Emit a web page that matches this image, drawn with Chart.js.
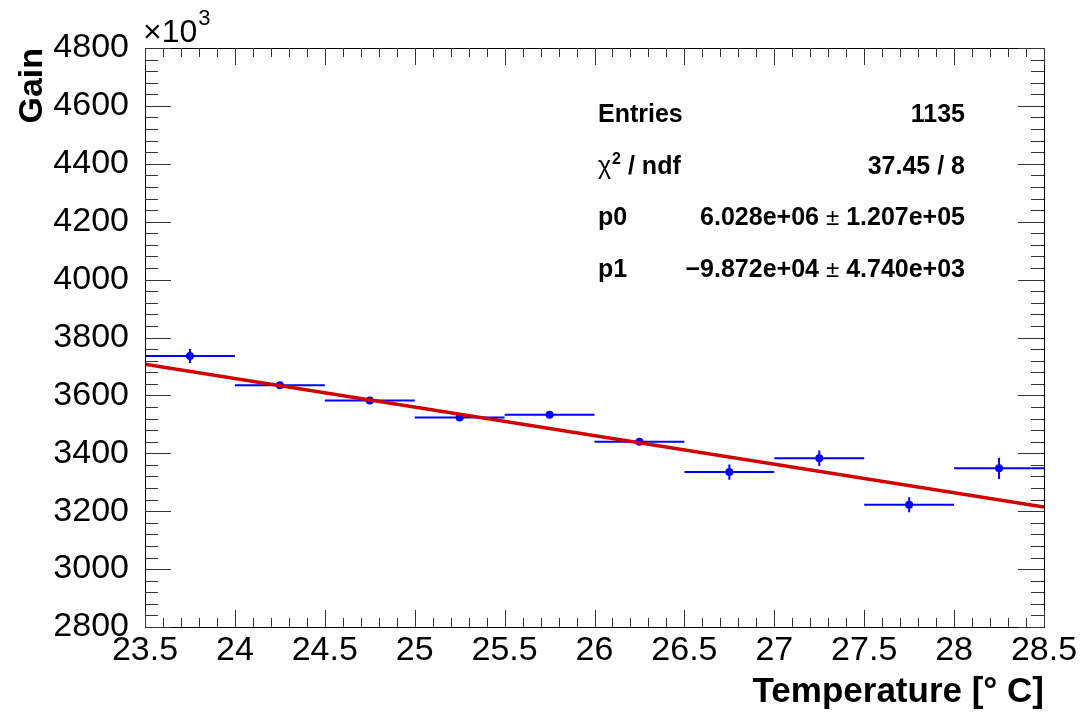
<!DOCTYPE html>
<html>
<head>
<meta charset="utf-8">
<script src="https://cdn.jsdelivr.net/npm/chart.js"></script>
<style>
    body { margin: 0; background: #ffffff; }
</style>
</head>
<body>
<canvas id="gainChart" width="1084" height="713"></canvas>
<script>
    // Gain vs temperature (gain in units of 10^3), one point per 0.5 degree bin
    const temps = [23.75, 24.25, 24.75, 25.25, 25.75, 26.25, 26.75, 27.25, 27.75, 28.25];
    const gains = [3736, 3635, 3582, 3524, 3533, 3440, 3335, 3383, 3222, 3348];
    const gainErr = [24, 12, 9, 7, 8, 9, 26, 27, 26, 37];
    const binHalf = 0.25;

    // linear fit p0 + p1*x, drawn across the whole range
    const fitX = [23.5, 28.5];
    const fitY = [3708.1, 3214.5];

    // stats box
    const statLabels = ['Entries', 'chi2', 'p0', 'p1'];
    const statValues = [['1135'], ['37.45 / 8'], ['6.028e+06', '1.207e+05'], ['\u22129.872e+04', '4.740e+03']];

    const FONT = "'Liberation Sans', Arial, sans-serif";

    // ROOT style frame: ticks inside on all four sides
    const rootFrame = {
        id: 'rootFrame',
        afterDatasetsDraw(chart) {
            const { ctx, chartArea: a, scales: { x, y } } = chart;
            ctx.save();
            ctx.strokeStyle = '#000000';
            ctx.lineWidth = 1;
            ctx.strokeRect(Math.round(a.left) + 0.5, Math.round(a.top) + 0.5,
                Math.round(a.right - a.left), Math.round(a.bottom - a.top));
            ctx.strokeStyle = '#333333';
            ctx.beginPath();
            for (let i = 0; i <= 50; i++) {
                const py = Math.round(y.getPixelForValue(y.min + i * 40)) + 0.5;
                const len = i % 5 === 0 ? 26 : 13;
                ctx.moveTo(a.left, py); ctx.lineTo(a.left + len, py);
                ctx.moveTo(a.right, py); ctx.lineTo(a.right - len, py);
            }
            for (let i = 0; i <= 50; i++) {
                const px = Math.round(x.getPixelForValue(x.min + i * 0.1)) + 0.5;
                const len = i % 5 === 0 ? 17 : 9;
                ctx.moveTo(px, a.bottom); ctx.lineTo(px, a.bottom - len);
                ctx.moveTo(px, a.top); ctx.lineTo(px, a.top + len);
            }
            ctx.stroke();

            // x10^3 multiplier above the y axis
            ctx.fillStyle = '#000000';
            ctx.textAlign = 'left';
            ctx.textBaseline = 'alphabetic';
            ctx.font = `32px ${FONT}`;
            ctx.fillText('\u00d710', a.left - 2, 42);
            const w = ctx.measureText('\u00d710').width;
            ctx.font = `22px ${FONT}`;
            ctx.fillText('3', a.left - 1 + w, 25);
            ctx.restore();
        }
    };

    // horizontal bin width and vertical error for every point
    const errorBars = {
        id: 'errorBars',
        beforeDatasetsDraw(chart) {
            const { ctx, scales: { x, y } } = chart;
            ctx.save();
            ctx.strokeStyle = '#0000ff';
            ctx.lineWidth = 2;
            ctx.beginPath();
            temps.forEach((t, i) => {
                const px = x.getPixelForValue(t);
                const py = y.getPixelForValue(gains[i]);
                ctx.moveTo(x.getPixelForValue(t - binHalf), py);
                ctx.lineTo(x.getPixelForValue(t + binHalf), py);
                ctx.moveTo(px, y.getPixelForValue(gains[i] - gainErr[i]));
                ctx.lineTo(px, y.getPixelForValue(gains[i] + gainErr[i]));
            });
            ctx.stroke();
            ctx.restore();
        }
    };

    // fit statistics, no frame
    const statsBox = {
        id: 'statsBox',
        afterDraw(chart) {
            const { ctx } = chart;
            const left = 598, right = 965;
            const baselines = [122, 174, 225, 277];
            const bold = `bold 25px ${FONT}`;
            ctx.save();
            ctx.fillStyle = '#000000';
            ctx.textBaseline = 'alphabetic';
            statLabels.forEach((lab, i) => {
                const yb = baselines[i];
                ctx.textAlign = 'left';
                if (lab === 'chi2') {
                    ctx.font = `25px ${FONT}`;
                    ctx.fillText('\u03c7', left, yb);
                    let cx = left + ctx.measureText('\u03c7').width + 1;
                    ctx.font = `bold 16px ${FONT}`;
                    ctx.fillText('2', cx, yb - 10);
                    cx += ctx.measureText('2').width;
                    ctx.font = bold;
                    ctx.fillText(' / ndf', cx, yb);
                } else {
                    ctx.font = bold;
                    ctx.fillText(lab, left, yb);
                }
                const vals = statValues[i];
                ctx.textAlign = 'right';
                ctx.font = bold;
                if (vals.length === 1) {
                    ctx.fillText(vals[0], right, yb);
                } else {
                    ctx.fillText(vals[1], right, yb);
                    let xr = right - ctx.measureText(vals[1]).width - 7;
                    ctx.font = `24px ${FONT}`;
                    ctx.fillText('\u00b1', xr, yb);
                    xr -= ctx.measureText('\u00b1').width + 7;
                    ctx.font = bold;
                    ctx.fillText(vals[0], xr, yb);
                }
            });
            ctx.restore();
        }
    };

    const ctxGain = document.getElementById('gainChart').getContext('2d');
    const gainChart = new Chart(ctxGain, {
        type: 'scatter',
        data: {
            datasets: [{
                type: 'line',
                label: 'fit',
                data: fitX.map((v, i) => ({ x: v, y: fitY[i] })),
                borderColor: '#d00000',
                borderWidth: 3.5,
                pointRadius: 0,
                fill: false,
                tension: 0
            }, {
                label: 'Gain',
                data: temps.map((v, i) => ({ x: v, y: gains[i] })),
                backgroundColor: '#0000ff',
                borderColor: '#0000ff',
                pointRadius: 4,
                borderWidth: 0
            }]
        },
        options: {
            responsive: false,
            animation: false,
            layout: { padding: { left: 0, right: 40, top: 48, bottom: 0 } },
            plugins: {
                legend: { display: false },
                tooltip: { enabled: false }
            },
            scales: {
                x: {
                    type: 'linear',
                    min: 23.5,
                    max: 28.5,
                    afterFit: (s) => { s.height = 86; },
                    grid: { display: false },
                    border: { display: false },
                    ticks: {
                        stepSize: 0.5,
                        padding: -5,
                        color: '#000000',
                        maxRotation: 0,
                        autoSkip: false,
                        font: { family: FONT, size: 34 },
                        callback: (v) => String(Math.round(v * 10) / 10)
                    },
                    title: {
                        display: true,
                        text: 'Temperature [\u00b0 C]',
                        align: 'end',
                        color: '#000000',
                        padding: { top: 0, bottom: 0 },
                        font: { family: FONT, size: 35, weight: 'bold' }
                    }
                },
                y: {
                    type: 'linear',
                    min: 2800,
                    max: 4800,
                    afterFit: (s) => { s.width = 145; },
                    grid: { display: false },
                    border: { display: false },
                    ticks: {
                        stepSize: 200,
                        padding: 8,
                        color: '#000000',
                        autoSkip: false,
                        font: { family: FONT, size: 34 },
                        callback: (v) => String(v)
                    },
                    title: {
                        display: true,
                        text: 'Gain',
                        align: 'end',
                        color: '#000000',
                        padding: { top: 12, bottom: 0 },
                        font: { family: FONT, size: 34, weight: 'bold' }
                    }
                }
            }
        },
        plugins: [errorBars, rootFrame, statsBox]
    });
</script>
</body>
</html>
